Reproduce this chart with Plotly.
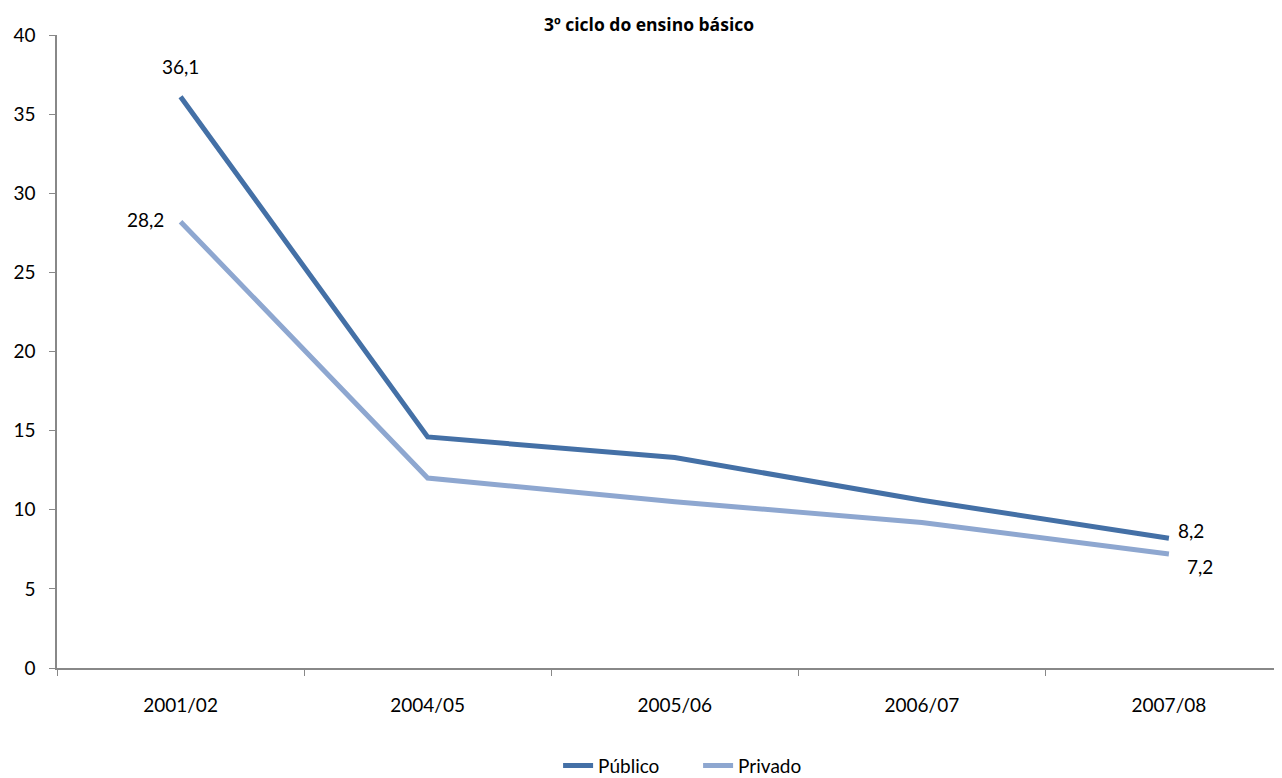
import plotly.graph_objects as go

categories = ["2001/02", "2004/05", "2005/06", "2006/07", "2007/08"]
publico = [36.1, 14.6, 13.3, 10.6, 8.2]
privado = [28.2, 12.0, 10.5, 9.2, 7.2]
title = "3º ciclo do ensino básico"

def fmt(v):
    return f"{v:.1f}".replace(".", ",")

pub_text = [fmt(publico[0]), "", "", "", fmt(publico[-1])]
pri_text = [fmt(privado[0]), "", "", "", fmt(privado[-1])]

fig = go.Figure()
fig.add_trace(go.Scatter(
    x=categories, y=publico, name="Público", mode="lines",
    line=dict(color="#4470A6", width=5),
))
fig.add_trace(go.Scatter(
    x=categories, y=privado, name="Privado", mode="lines",
    line=dict(color="#8EA7D0", width=5),
))

font_fam = "Lato, Open Sans, sans-serif"
fs = 19
# data labels
fig.add_annotation(x=categories[0], y=publico[0], text=pub_text[0], showarrow=False,
                   yshift=30, font=dict(size=fs, color="#000", family=font_fam))
fig.add_annotation(x=categories[0], y=privado[0], text=pri_text[0], showarrow=False,
                   xshift=-35, yshift=2, font=dict(size=fs, color="#000", family=font_fam))
fig.add_annotation(x=categories[-1], y=publico[-1], text=pub_text[-1], showarrow=False,
                   xshift=22, yshift=8, font=dict(size=fs, color="#000", family=font_fam))
fig.add_annotation(x=categories[-1], y=privado[-1], text=pri_text[-1], showarrow=False,
                   xshift=31, yshift=-12, font=dict(size=fs, color="#000", family=font_fam))

fig.update_layout(
    width=1282, height=778,
    margin=dict(l=49, r=0, t=27, b=118),
    paper_bgcolor="white", plot_bgcolor="white",
    font=dict(family=font_fam, size=fs, color="#000"),
    title=dict(text="<b>" + title + "</b>", x=0.5, xanchor="center", y=0.978, yanchor="middle",
               font=dict(size=17.5, family="Open Sans, sans-serif"), automargin=False),
    showlegend=True,
    legend=dict(orientation="h", x=0.4064, xanchor="left",
                yref="container", y=0.0262, yanchor="middle",
                font=dict(size=fs), itemwidth=30, tracegroupgap=0,
                entrywidth=95, entrywidthmode="pixels"),
    xaxis=dict(
        type="category", range=[-0.5, 4.49], showgrid=False, zeroline=False,
        showline=True, linecolor="#888888", linewidth=1.5, automargin=False,
        ticks="outside", tickson="boundaries", ticklen=6, tickcolor="#888888",
        tickfont=dict(size=fs), ticklabelstandoff=19,
    ),
    yaxis=dict(
        range=[0, 40], dtick=5, showgrid=False, zeroline=False,
        showline=True, linecolor="#888888", linewidth=1.5, automargin=False,
        ticks="outside", ticklen=6, tickcolor="#888888", tickfont=dict(size=fs),
        ticklabelstandoff=10,
    ),
)

fig.write_html("out.html")
